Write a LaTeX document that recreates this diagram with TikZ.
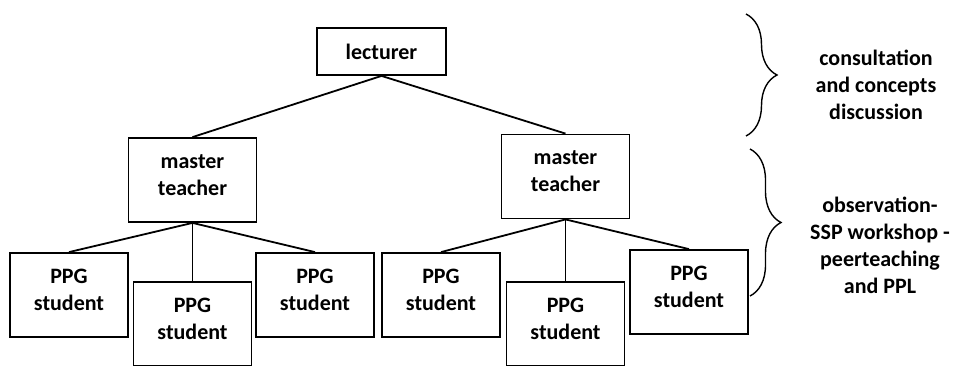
\documentclass[tikz,border=0pt]{standalone}
\usepackage{fontspec}
\setmainfont{Carlito}
\usetikzlibrary{decorations.pathreplacing}
\newcommand*{\ppgw}{118pt}
\newcommand*{\ppgh}{84pt}
\newcommand*{\mtw }{128pt}
\newcommand*{\mth }{84pt}

\begin{document}
\begin{tikzpicture}[x=1pt, y=-1pt, line width=1.8pt,
        font=\fontsize{22}{27}\selectfont\bfseries,
        box/.style={draw, align=center, inner sep=0pt},
        ppg/.style={box, text depth=10pt, minimum width=\ppgw, minimum height=\ppgh},
        master/.style={box, text depth=10pt, minimum width=\mtw, minimum height=\mth},
        curly/.style={decorate, line width=1.4pt, decoration={brace, amplitude=31pt}}]
        \clip (0,0) rectangle (953,365);
        \node [box, minimum width=129pt, minimum height=47pt] (lecturer) at (381.5,51.5) {lecturer};
        \node [master] (masterL) at (192.5,180) {master\\teacher};
        \node [master] (masterR) at (565.5,176.5) {master\\teacher};
        \node [ppg] (ppgA) at ( 69.0,295) {PPG\\student};
        \node [ppg] (ppgB) at (192.5,324) {PPG\\student};
        \node [ppg] (ppgC) at (315.0,295) {PPG\\student};
        \node [ppg] (ppgD) at (441.0,295) {PPG\\student};
        \node [ppg] (ppgE) at (565.5,324) {PPG\\student};
        \node [ppg] (ppgF) at (689.0,292) {PPG\\student};
        \draw (lecturer.south) -- (masterL.north);
        \draw (lecturer.south) -- (masterR.north);
        \draw (masterL.south) -- (ppgA.north);
        \draw (masterL.south) -- (ppgB.north);
        \draw (masterL.south) -- (ppgC.north);
        \draw (masterR.south) -- (ppgD.north);
        \draw (masterR.south) -- (ppgE.north);
        \draw (masterR.south) -- (ppgF.north);
        \draw [curly] (746,14) -- (746,136);
        \draw [curly] (750,149) -- (750,296);
        \node [align=center] (consult) at (876,85) {consultation\\and concepts\\discussion};
        \node [align=center] (observe) at (880,245) {observation-\\SSP workshop -\\peerteaching\\and PPL};
    \end{tikzpicture}
\end{document}
